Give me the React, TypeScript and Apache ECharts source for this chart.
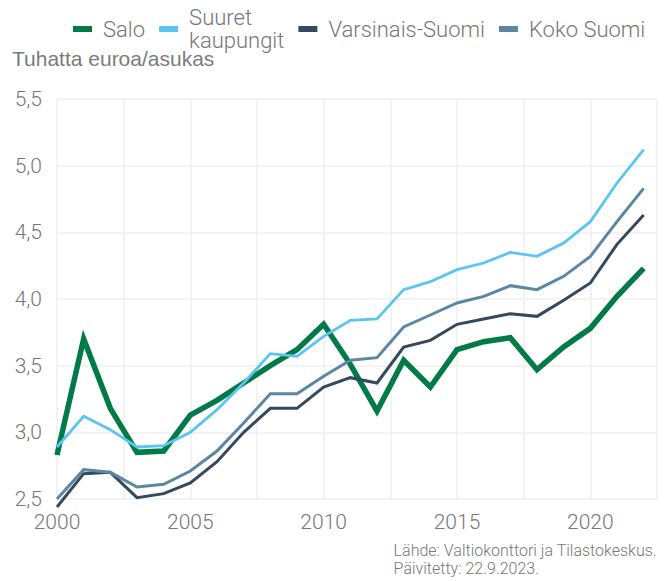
import React, { useEffect, useRef } from "react";
import * as echarts from "echarts";

const years = [2000, 2001, 2002, 2003, 2004, 2005, 2006, 2007, 2008, 2009, 2010, 2011, 2012, 2013, 2014, 2015, 2016, 2017, 2018, 2019, 2020, 2021, 2022];
const salo = [2.83, 3.70, 3.18, 2.85, 2.86, 3.13, 3.24, 3.37, 3.50, 3.62, 3.81, 3.51, 3.16, 3.54, 3.34, 3.62, 3.68, 3.71, 3.47, 3.64, 3.78, 4.02, 4.23];
const suuret = [2.89, 3.12, 3.02, 2.89, 2.90, 3.00, 3.17, 3.37, 3.59, 3.57, 3.72, 3.84, 3.85, 4.07, 4.13, 4.22, 4.27, 4.35, 4.32, 4.42, 4.58, 4.87, 5.12];
const varsinais = [2.44, 2.69, 2.70, 2.51, 2.54, 2.62, 2.78, 3.00, 3.18, 3.18, 3.34, 3.41, 3.37, 3.64, 3.69, 3.81, 3.85, 3.89, 3.87, 3.99, 4.12, 4.41, 4.63];
const koko = [2.50, 2.72, 2.70, 2.59, 2.61, 2.71, 2.86, 3.07, 3.29, 3.29, 3.42, 3.54, 3.56, 3.79, 3.88, 3.97, 4.02, 4.10, 4.07, 4.17, 4.32, 4.58, 4.83];

const seriesNames = ["Salo", "Suuret\nkaupungit", "Varsinais-Suomi", "Koko Suomi"];
const seriesColors = ["#007A47", "#5BC5F2", "#34495E", "#5B87A3"];
const seriesWidths = [5.5, 2.8, 3, 3];
const seriesValues = [salo, suuret, varsinais, koko];

const yTitle = "Tuhatta euroa/asukas";
const sourceLines = ["Lähde: Valtiokonttori ja Tilastokeskus.", "Päivitetty: 22.9.2023."];

const FONT = "Roboto";
const GRAY = "#777777";

export default function App() {
  const ref = useRef<HTMLDivElement>(null);
  useEffect(() => {
    if (!ref.current) return;
    const chart = echarts.init(ref.current, null, { renderer: "svg" });
    chart.setOption({
      animation: false,
      backgroundColor: "#ffffff",
      textStyle: { fontFamily: FONT },
      legend: {
        left: 73,
        top: 6,
        padding: 0,
        icon: "rect",
        itemWidth: 19,
        itemHeight: 6,
        itemGap: 14,
        textStyle: { fontFamily: FONT, fontWeight: 300, fontSize: 22, color: GRAY, lineHeight: 23, padding: [0, 0, 0, 6] },
        data: seriesNames,
      },
      grid: { left: 57, right: 9, top: 99, bottom: 82, containLabel: false },
      xAxis: {
        type: "value",
        min: 2000,
        max: 2022.5,
        interval: 2.5,
        axisLine: { show: false },
        axisTick: { show: false },
        splitLine: { show: true, lineStyle: { color: "#EFEFEF", width: 1.5 } },
        axisLabel: {
          margin: 12,
          fontFamily: FONT,
          fontWeight: 300,
          fontSize: 21,
          color: GRAY,
          formatter: (v: number) => (v % 5 === 0 ? String(v) : ""),
        },
      },
      yAxis: {
        type: "value",
        min: 2.5,
        max: 5.5,
        interval: 0.5,
        axisLine: { show: false },
        axisTick: { show: false },
        splitLine: { show: true, lineStyle: { color: "#EFEFEF", width: 1.5 } },
        axisLabel: {
          margin: 15,
          fontFamily: FONT,
          fontWeight: 300,
          fontSize: 21,
          color: GRAY,
          formatter: (v: number) => v.toFixed(1).replace(".", ","),
        },
      },
      graphic: [
        {
          type: "text",
          left: 12,
          top: 48,
          style: { text: yTitle, fontFamily: "Liberation Sans", fontSize: 21, fill: "#7C7C7C" },
        },
        {
          type: "text",
          right: 9,
          top: 541,
          style: {
            text: sourceLines.join("\n"),
            fontFamily: FONT,
            fontWeight: 300,
            fontSize: 16,
            lineHeight: 18,
            fill: GRAY,
            align: "right",
          },
        },
      ],
      series: seriesNames.map((name, i) => ({
        name,
        type: "line",
        data: years.map((y, j) => [y, seriesValues[i][j]]),
        showSymbol: false,
        symbol: "none",
        clip: false,
        color: seriesColors[i],
        lineStyle: { color: seriesColors[i], width: seriesWidths[i], join: "miter" },
      })),
    });
    return () => chart.dispose();
  }, []);
  return <div ref={ref} style={{ width: 666, height: 581, position: "absolute", left: 0, top: 0 }} />;
}
